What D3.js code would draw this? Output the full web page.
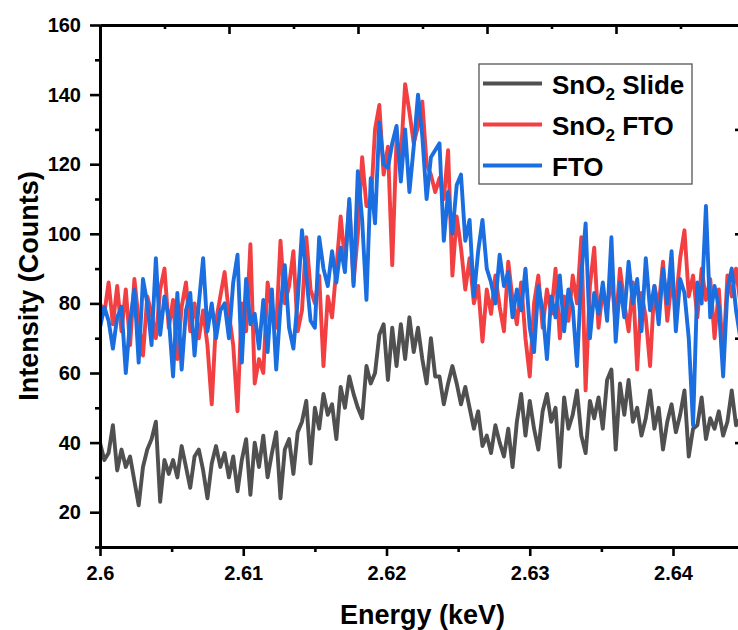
<!DOCTYPE html>
<html>
<head>
<meta charset="utf-8">
<script src="https://cdn.jsdelivr.net/npm/d3@7"></script>
<style>
  body { margin: 0; background: #fff; }
  svg { display: block; font-family: "Liberation Sans", Arial, sans-serif; font-weight: bold; }
</style>
</head>
<body>
<svg id="chart" width="738" height="630"></svg>
<script>
// === data === //

// channel grid (keV)
var eStart = 2.6
var eStep = 0.0003

var slide = [40,35,37,45,32,38,33,36,29,22,33,38,41,46,23,35,31,35,30,39,
  33,27,36,38,32,24,34,39,33,37,30,36,26,35,41,25,40,33,42,30,
  37,43,24,38,41,31,43,46,52,34,50,44,54,48,51,41,56,50,59,54,
  50,47,62,57,60,71,74,58,73,62,74,64,76,66,73,64,57,70,59,59,
  51,57,62,57,51,56,50,44,49,39,42,37,45,40,36,44,33,46,54,42,
  52,44,38,49,54,46,50,33,53,44,48,55,42,37,52,47,53,44,58,61,
  38,57,48,58,46,50,42,47,55,44,50,38,46,51,43,48,55,36,44,45,
  53,41,47,44,49,42,46,55,45,47]

var snFto = [80,77,86,74,85,72,84,68,87,75,65,82,77,70,84,90,73,81,64,79,
  86,72,80,70,78,68,51,75,82,89,77,68,49,80,72,97,57,64,60,86,
  78,73,98,80,85,95,72,78,99,84,80,88,62,82,76,90,105,92,109,86,
  100,122,108,108,130,137,117,125,91,127,122,143,135,126,131,138,120,117,112,116,
  110,124,88,105,96,84,93,80,85,69,84,77,88,79,72,92,81,74,86,70,
  59,80,88,73,84,77,90,70,82,75,88,80,99,55,85,96,73,84,78,88,
  74,90,80,72,86,61,83,76,62,85,79,92,75,86,80,93,101,82,88,76,
  90,81,87,70,84,64,88,82,90,80]

var fto = [73,79,75,67,76,79,60,75,84,63,87,80,68,93,71,82,76,59,83,61,
  78,83,65,80,93,72,80,70,78,80,70,86,94,63,87,74,77,67,81,66,
  84,61,79,91,73,67,81,101,88,75,73,99,90,85,95,86,96,89,110,85,
  118,104,81,116,103,132,120,119,126,131,115,130,112,125,140,128,110,122,124,126,
  98,112,100,114,117,98,104,82,95,104,90,86,80,94,85,89,76,84,78,90,
  73,66,85,78,64,82,76,88,72,84,79,62,88,103,70,83,77,86,75,99,
  69,86,76,92,80,87,72,93,78,85,74,90,80,95,72,87,83,70,45,86,
  80,108,76,85,79,59,84,90,78,70]

var seriesNames = ["SnO2 Slide", "SnO2 FTO", "FTO"]
var seriesColors = ["#505050", "#f23f42", "#1a6ee0"]
var seriesData = [slide, snFto, fto]

var xTicks = [2.6, 2.61, 2.62, 2.63, 2.64]
var xMinor = [2.605, 2.615, 2.625, 2.635, 2.645]
var yTicks = [20, 40, 60, 80, 100, 120, 140, 160]
var yMinor = [10, 30, 50, 70, 90, 110, 130, 150]

// === set up === //

var plotLeft = 100, plotRight = 745, plotTop = 25, plotBottom = 547

var svg = d3.select("#chart")

var x = d3.scaleLinear().domain([2.6, 2.6 + (plotRight - plotLeft) / 14325]).range([plotLeft, plotRight])
var y = d3.scaleLinear().domain([10, 160]).range([plotBottom, plotTop])

// mirror axes of the frame use their own 5-step division
var xTop = d3.scaleLinear().domain([0, 5]).range([plotLeft, plotRight])
var yRight = d3.scaleLinear().domain([0, 5]).range([plotBottom, plotTop])

svg.append("clipPath").attr("id", "plotclip")
  .append("rect")
  .attr("x", plotLeft).attr("y", plotTop)
  .attr("width", plotRight - plotLeft).attr("height", plotBottom - plotTop)

var line = d3.line()
  .x(function(d, i) { return x(eStart + i * eStep) })
  .y(function(d) { return y(d) })

var lines = svg.append("g").attr("clip-path", "url(#plotclip)")

seriesData.forEach(function(s, k) {
  lines.append("path")
    .datum(s)
    .attr("d", line)
    .attr("fill", "none")
    .attr("stroke", seriesColors[k])
    .attr("stroke-width", 3.9)
    .attr("stroke-linejoin", "round")
})

// === axes === //

function styleAxis(g) {
  g.select(".domain").attr("stroke", "#000").attr("stroke-width", 3)
  g.selectAll(".tick line").attr("stroke", "#000").attr("stroke-width", 2.6)
  g.selectAll(".tick text").attr("fill", "#000")
    .attr("font-size", 20).attr("font-weight", "bold")
    .attr("font-family", "'Liberation Sans', Arial, sans-serif")
}

// bottom
svg.append("g").attr("transform", "translate(0," + plotBottom + ")")
  .call(d3.axisBottom(x).tickValues(xMinor).tickSize(5).tickFormat("").tickSizeOuter(0))
  .call(styleAxis)
svg.append("g").attr("transform", "translate(0," + plotBottom + ")")
  .call(d3.axisBottom(x).tickValues(xTicks).tickSize(9).tickSizeOuter(0).tickPadding(10)
    .tickFormat(function(d) { return String(+d.toFixed(3)) }))
  .call(styleAxis)

// left
svg.append("g").attr("transform", "translate(" + plotLeft + ",0)")
  .call(d3.axisLeft(y).tickValues(yMinor).tickSize(5).tickFormat("").tickSizeOuter(0))
  .call(styleAxis)
svg.append("g").attr("transform", "translate(" + plotLeft + ",0)")
  .call(d3.axisLeft(y).tickValues(yTicks).tickSize(10).tickSizeOuter(0).tickPadding(9))
  .call(styleAxis)

// top (ticks inward)
svg.append("g").attr("transform", "translate(0," + plotTop + ")")
  .call(d3.axisTop(xTop).tickValues([0.5, 1.5, 2.5, 3.5, 4.5]).tickSize(-4).tickFormat("").tickSizeOuter(0))
  .call(styleAxis)
svg.append("g").attr("transform", "translate(0," + plotTop + ")")
  .call(d3.axisTop(xTop).tickValues([1, 2, 3, 4]).tickSize(-9).tickFormat("").tickSizeOuter(0))
  .call(styleAxis)

// right (ticks inward)
svg.append("g").attr("transform", "translate(" + plotRight + ",0)")
  .call(d3.axisRight(yRight).tickValues([0.5, 1.5, 2.5, 3.5, 4.5]).tickSize(-4).tickFormat("").tickSizeOuter(0))
  .call(styleAxis)
svg.append("g").attr("transform", "translate(" + plotRight + ",0)")
  .call(d3.axisRight(yRight).tickValues([1, 2, 3, 4]).tickSize(-10).tickFormat("").tickSizeOuter(0))
  .call(styleAxis)

// axis titles
svg.append("text")
  .attr("x", (plotLeft + plotRight) / 2).attr("y", 624)
  .attr("text-anchor", "middle")
  .style("font-size", "27px")
  .text("Energy (keV)")

svg.append("text")
  .attr("transform", "translate(38," + ((plotTop + plotBottom) / 2) + ") rotate(-90)")
  .attr("text-anchor", "middle")
  .style("font-size", "27px")
  .text("Intensity (Counts)")

// === legend === //

var legend = svg.append("g").attr("transform", "translate(479,64)")

legend.append("rect")
  .attr("width", 213).attr("height", 120)
  .attr("fill", "#fff").attr("stroke", "#555").attr("stroke-width", 1.3)

seriesNames.forEach(function(name, k) {
  var ly = 19.5 + k * 41
  legend.append("line")
    .attr("x1", 4).attr("x2", 63).attr("y1", ly).attr("y2", ly)
    .attr("stroke", seriesColors[k]).attr("stroke-width", 4)

  var t = legend.append("text")
    .attr("x", 73).attr("y", ly + 10.5)
    .style("font-size", "26px")

  if (name.indexOf("SnO2") === 0) {
    t.append("tspan").text("SnO")
    t.append("tspan").attr("dy", 6).style("font-size", "17px").text("2")
    t.append("tspan").attr("dy", -6).text(name.slice(4))
  } else {
    t.text(name)
  }
})
</script>
</body>
</html>
